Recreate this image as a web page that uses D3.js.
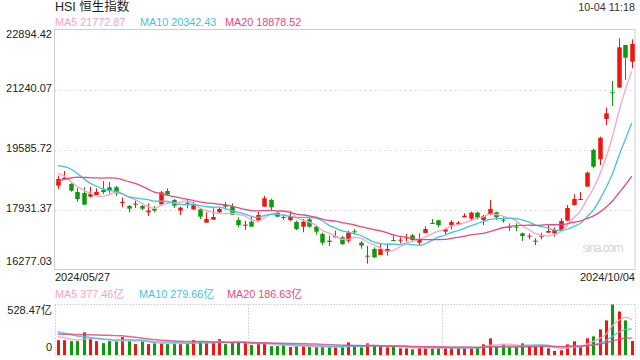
<!DOCTYPE html>
<html><head><meta charset="utf-8">
<script src="https://cdn.jsdelivr.net/npm/d3@7"></script>
<style>body{margin:0;background:#fff}svg{display:block;font-family:Arial,"Liberation Sans","Noto Sans CJK SC",sans-serif}</style>
</head><body><svg id="c" width="640" height="360"></svg>
<script>
// ---- data ----
const title = "HSI 恒生指数";
const timeLabel = "10-04 11:18";
const dateLabels = ["2024/05/27", "2024/10/04"];
const open  = [18589,18773,18635,18414,18387,18286,18332,18469,18543,18543,18120,18028,18074,18028,17854,17946,18074,18442,18194,17900,18120,17936,17936,17569,17652,17854,18056,18028,17642,17486,17596,17624,18010,18194,17845,17725,17642,17587,17458,17661,17458,17256,17072,17164,17164,17072,17330,17017,16640,16843,16677,16769,17091,17072,17137,17219,17017,17284,17560,17633,17321,17495,17523,17716,17679,17845,17642,17808,17854,17651,17458,17458,17275,17183,17045,17183,17293,17275,17367,17624,18056,18203,18561,19572,19315,20427,21162,21291,22467,22008];
const high  = [18865,18993,18653,18525,18543,18561,18515,18718,18690,18580,18258,18056,18175,18056,18102,18028,18442,18515,18221,18010,18212,18139,17955,17854,17964,17982,18130,18102,17716,17615,17734,17872,18304,18231,17890,17799,17844,17624,17670,17707,17504,17293,17210,17348,17201,17348,17394,17063,16925,16889,16981,16999,17219,17164,17256,17256,17275,17468,17670,17642,17422,17642,17615,17826,17872,17872,17780,18194,17872,17716,17550,17550,17293,17275,17137,17293,17495,17440,17688,18056,18350,18414,18975,19600,19940,20739,21474,22651,22467,22623];
const low   = [18497,18763,18423,18148,18065,18267,18332,18359,18378,18304,17992,17854,17973,17918,17753,17854,18038,18304,17973,17780,17964,17918,17670,17569,17652,17808,17936,17789,17440,17366,17458,17596,18010,17918,17716,17642,17615,17366,17302,17431,17238,16953,16925,17164,16953,17017,17256,16852,16438,16595,16677,16659,17072,16999,17045,17054,16925,17284,17541,17440,17256,17385,17495,17716,17624,17661,17504,17771,17642,17569,17330,17330,17063,17109,16953,17109,17293,17183,17367,17624,18038,18203,18561,19067,19159,20261,20785,21291,21502,21824];
const close = [18773,18809,18451,18221,18065,18359,18414,18414,18451,18378,18139,17955,18093,17955,17900,17900,18405,18341,18038,17982,18093,18047,17734,17670,17725,17946,18010,17789,17504,17513,17458,17780,18240,17991,17734,17707,17753,17394,17596,17458,17321,17017,17035,17201,16980,17293,17311,16935,16659,16613,16843,16843,17072,17100,17164,17091,17118,17394,17541,17504,17385,17587,17569,17761,17845,17707,17753,17945,17716,17624,17440,17440,17201,17210,17072,17210,17339,17367,17615,17973,18221,18221,18947,19113,19912,20583,21134,22403,22118,22495];
const volume = [155,155,145,145,238,173,145,124,145,145,187,145,114,145,114,124,124,114,124,114,124,155,145,124,124,166,114,131,131,124,104,114,124,93,93,104,83,93,93,83,83,83,83,83,83,132,97,80,122,97,94,80,97,70,70,59,73,83,73,73,73,73,73,73,73,83,111,174,83,111,83,83,122,97,97,97,70,42,49,111,143,83,174,195,268,362,528,455,362,146];
// closes and volumes of the sessions just before the first candle (for the moving averages)
const priorClose  = [17651,17747,17763,18207,18476,18578,18479,18314,18538,18964,19115,19074,19376,19553,19636,19220,19195,18868,18609];
const priorVolume = [170,180,200,230,210,190,185,175,200,210,300,280,310,290,275,230,210,200,180];
const yTicks = [22894.42, 21240.07, 19585.72, 17931.37, 16277.03];
const volTicks = [528.47, 0];
const volTickLabels = ["528.47亿", "0"];
const maPeriods = [5, 10, 20];
const maLegend = ["MA5 21772.87", "MA10 20342.43", "MA20 18878.52"];
const volLegend = ["MA5 377.46亿", "MA10 279.66亿", "MA20 186.63亿"];
const maColors = ["#f7a3c5", "#3fc3e3", "#e9487f"];

// ---- layout ----
const L = 54.5, R = 635, T = 29.5, B = 269.5, VT = 304.5, VB = 355;
const UP = "#f2140f", DOWN = "#0b9b0b";
const svg = d3.select("#c");
const idx = d3.range(close.length);
const x = d3.scaleBand().domain(idx).range([L, R]).paddingInner(0.3).paddingOuter(0.15);
const cx = i => x(i) + x.bandwidth() / 2;
const y = d3.scaleLinear().domain([yTicks[4], yTicks[0]]).range([B, T]);
const yv = d3.scaleLinear().domain([0, volTicks[0]]).range([VB, VT]);

function ma(series, prior, n) {
  const all = prior.concat(series), p = prior.length;
  return series.map((_, i) => d3.mean(all.slice(i + p - n + 1, i + p + 1)));
}

// main panel grid + border
svg.append("g").selectAll("line").data(yTicks.slice(1, 4)).join("line")
  .attr("x1", L).attr("x2", R).attr("y1", d => Math.round(y(d)) + 0.5).attr("y2", d => Math.round(y(d)) + 0.5)
  .attr("stroke", "#dcdcdc").attr("stroke-dasharray", "2,3");
svg.append("rect").attr("x", L).attr("y", T).attr("width", R - L).attr("height", B - T)
  .attr("fill", "none").attr("stroke", "#cfcfcf");

// watermark
svg.append("text").attr("x", 603).attr("y", 249).attr("text-anchor", "middle").attr("dominant-baseline", "middle")
  .attr("font-size", 12).attr("fill", "#d4d4d4").attr("textLength", 41).text("sina.com");

// candles
const cg = svg.append("g");
idx.forEach(i => {
  const col = close[i] >= open[i] ? UP : DOWN;
  cg.append("line").attr("x1", Math.round(cx(i)) + 0.5).attr("x2", Math.round(cx(i)) + 0.5)
    .attr("y1", y(high[i])).attr("y2", y(low[i])).attr("stroke", col).attr("stroke-width", 1);
  const top = y(Math.max(open[i], close[i])), bot = y(Math.min(open[i], close[i]));
  cg.append("rect").attr("x", Math.round(cx(i)) + 0.5 - x.bandwidth() / 2).attr("width", x.bandwidth())
    .attr("y", top).attr("height", Math.max(1, bot - top)).attr("fill", col);
});

// MA lines main
const lineMain = d3.line().x((d, i) => cx(i)).y(d => y(d)).curve(d3.curveMonotoneX);
maPeriods.forEach((n, k) => {
  svg.append("path").datum(ma(close, priorClose, n)).attr("d", lineMain)
    .attr("fill", "none").attr("stroke", maColors[k]).attr("stroke-width", 1.3);
});

// texts
svg.append("text").attr("x", 55).attr("y", 8).attr("dominant-baseline", "middle")
  .attr("font-size", 12.5).attr("fill", "#222").text(title);
svg.append("text").attr("x", 635).attr("y", 8).attr("text-anchor", "end").attr("dominant-baseline", "middle")
  .attr("font-size", 10.8).attr("fill", "#333").text(timeLabel);
const legX = [55, 140, 225];
maLegend.forEach((t, k) => svg.append("text").attr("x", legX[k]).attr("y", 23.5).attr("dominant-baseline", "middle")
  .attr("font-size", 10.8).attr("fill", maColors[k]).text(t));
const yl = svg.append("g").attr("font-size", 11).attr("fill", "#222").attr("text-anchor", "end");
yTicks.forEach((t, k) => {
  let yy = y(t);
  if (k === 0) yy += 5.5; if (k === yTicks.length - 1) yy -= 7;
  yl.append("text").attr("x", 52).attr("y", yy).attr("dominant-baseline", "middle").text(d3.format(".2f")(t));
});
svg.append("text").attr("x", 55).attr("y", 278).attr("dominant-baseline", "middle").attr("font-size", 11).attr("fill", "#222").text(dateLabels[0]);
svg.append("text").attr("x", 635).attr("y", 278).attr("text-anchor", "end").attr("dominant-baseline", "middle").attr("font-size", 11).attr("fill", "#222").text(dateLabels[1]);
const vLegX = [55, 139, 227];
volLegend.forEach((t, k) => svg.append("text").attr("x", vLegX[k]).attr("y", 295).attr("dominant-baseline", "middle")
  .attr("font-size", 10.8).attr("fill", maColors[k]).text(t));

// volume panel
const vg = svg.append("g").attr("fill", "none").attr("stroke", "#cfcfcf").attr("stroke-dasharray", "1.5,1.5");
vg.append("line").attr("x1", L).attr("x2", R).attr("y1", VT).attr("y2", VT);
[L, L + (R - L) / 3, L + 2 * (R - L) / 3, R].forEach(xx => {
  const xr = Math.round(xx) + 0.5;
  vg.append("line").attr("x1", xr).attr("x2", xr).attr("y1", VT).attr("y2", VB);
});
svg.append("line").attr("x1", L).attr("x2", R).attr("y1", VB + 0.5).attr("y2", VB + 0.5).attr("stroke", "#e4e4e4");
const vbw = 3;
svg.append("g").selectAll("rect").data(idx).join("rect")
  .attr("x", i => Math.round(cx(i)) + 0.5 - vbw / 2).attr("width", vbw)
  .attr("y", i => yv(volume[i])).attr("height", i => VB - yv(volume[i]))
  .attr("fill", i => close[i] >= open[i] ? UP : DOWN);
const lineVol = d3.line().x((d, i) => cx(i)).y(d => yv(d)).curve(d3.curveMonotoneX);
maPeriods.forEach((n, k) => {
  svg.append("path").datum(ma(volume, priorVolume, n)).attr("d", lineVol)
    .attr("fill", "none").attr("stroke", maColors[k]).attr("stroke-width", 1.5).attr("opacity", 0.85);
});
const vl = svg.append("g").attr("font-size", 11).attr("fill", "#222").attr("text-anchor", "end");
vl.append("text").attr("x", 52).attr("y", yv(volTicks[0]) + 7).attr("dominant-baseline", "middle").text(volTickLabels[0]);
vl.append("text").attr("x", 52).attr("y", yv(volTicks[1]) - 7).attr("dominant-baseline", "middle").text(volTickLabels[1]);
</script></body></html>
